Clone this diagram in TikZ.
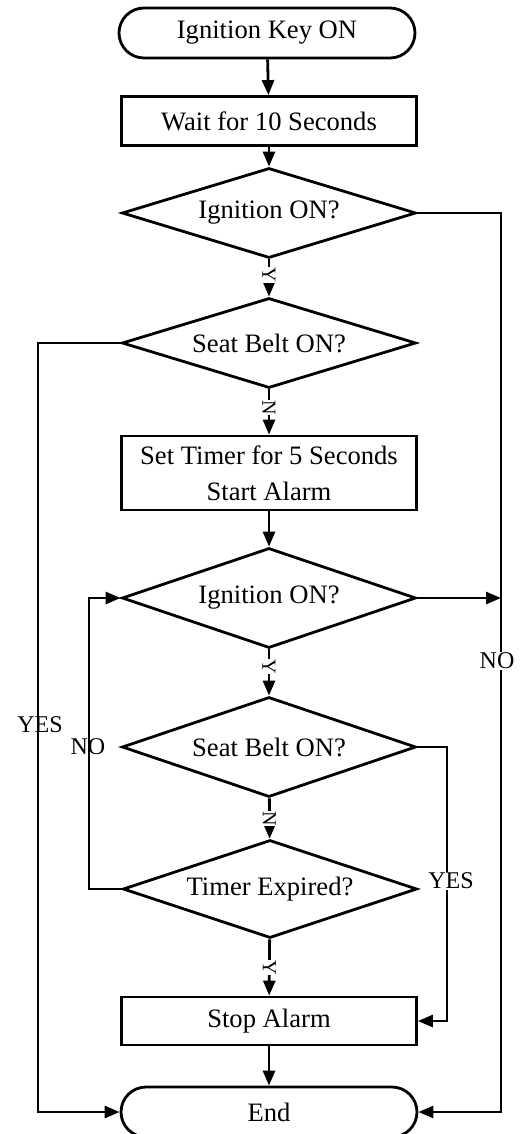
\documentclass[tikz,border=0pt]{standalone}
\usepackage{fontspec}
\setmainfont{Liberation Serif}
\usetikzlibrary{shapes.geometric,shapes.misc,arrows.meta}

\begin{document}
\begin{tikzpicture}[x=1pt,y=-1pt,line width=2.8pt,
        terminal/.style={rounded rectangle,draw,minimum width=296pt,minimum height=50pt,inner sep=0pt,font=\fontsize{26.6}{36}\selectfont},
        process/.style={rectangle,draw,minimum width=295pt,inner sep=0pt,align=center,font=\fontsize{26.6}{36}\selectfont},
        decision/.style={diamond,draw,aspect=3.27,minimum width=294pt,minimum height=90pt,inner sep=0pt,font=\fontsize{26.6}{36}\selectfont},
        flow/.style={-{Triangle[length=15pt,width=12pt]}},
        branch/.style={inner sep=1pt,font=\fontsize{24}{28}\selectfont},
        yn/.style={rotate=-90,fill=white,inner sep=0.5pt,font=\fontsize{20}{20}\selectfont}]
        \useasboundingbox[fill=white] (0,0) rectangle (531,1134);

        \node[terminal] (start) at (267,33) {Ignition Key ON};
        \node[process,minimum height=49pt] (wait) at (269,121) {Wait for 10 Seconds};
        \node[decision] (ign1) at (269,213) {Ignition ON?};
        \node[decision] (belt1) at (269,343) {Seat Belt ON?};
        \node[process,minimum height=74pt] (timer) at (269,473) {Set Timer for 5 Seconds\\Start Alarm};
        \node[decision,minimum height=100pt] (ign2) at (269,598) {Ignition ON?};
        \node[decision,minimum height=100pt] (belt2) at (269,747) {Seat Belt ON?};
        \node[decision,minimum height=98pt] (expired) at (270,889) {Timer Expired?};
        \node[process,minimum height=48pt] (stop) at (269,1021) {Stop Alarm};
        \node[terminal] (end) at (269,1112) {End};

        \coordinate (llane) at (38,0);
        \coordinate (loop) at (89,0);
        \coordinate (ylane) at (447,0);
        \coordinate (rlane) at (501,0);

        \draw[flow] (start) -- (wait);
        \draw[flow] (wait) -- (ign1);
        \draw[flow] (ign1) -- node[yn,pos=0.42] {Y} (belt1);
        \draw[flow] (belt1) -- node[yn,pos=0.4] {N} (timer);
        \draw[flow] (timer) -- (ign2);
        \draw[flow] (ign2) -- node[yn,pos=0.37] {Y} (belt2);
        \draw[flow] (belt2) -- node[yn] {N} (expired);
        \draw[flow] (expired) -- node[yn] {Y} (stop);
        \draw[flow] (stop) -- (end);

        \draw[flow] (belt1.west) -- (belt1.west -| llane) |- (end.west);
        \draw[flow] (ign1.east) -- (ign1.east -| rlane) |- (end.east);
        \draw[flow] (ign2.east) -- (ign2.east -| rlane);
        \draw[flow] (expired.west) -- (expired.west -| loop) |- (ign2.west);
        \draw[flow] (belt2.east) -- (belt2.east -| ylane) |- (stop.east);

        \node[branch,fill=white] (noright) at (497,661) {NO};
        \node[branch] (yesleft) at (40,725) {YES};
        \node[branch] (noloop) at (88,747) {NO};
        \node[branch,fill=white] (yesright) at (451,881) {YES};
      \end{tikzpicture}
\end{document}
